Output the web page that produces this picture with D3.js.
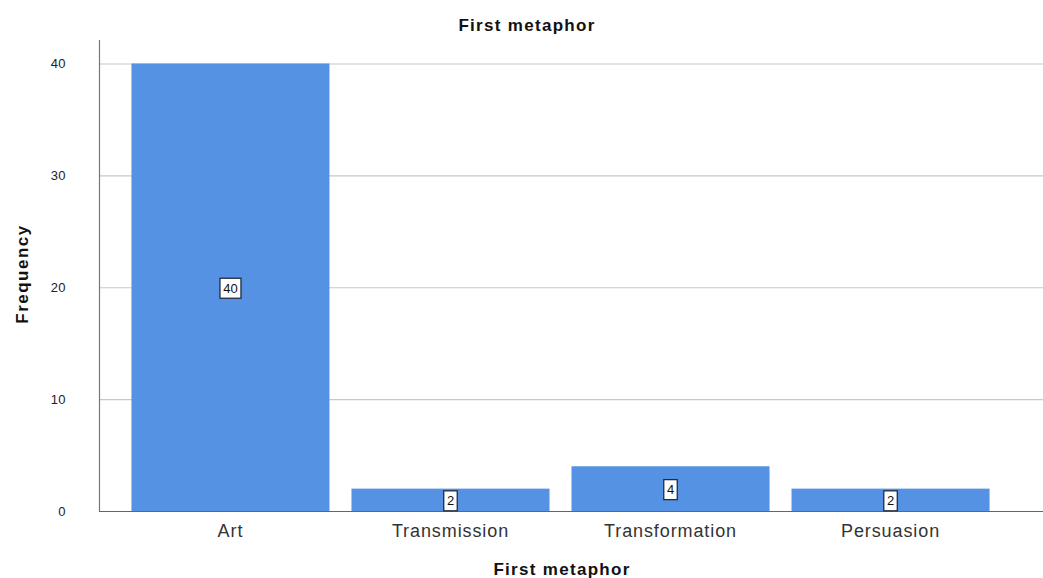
<!DOCTYPE html>
<html><head><meta charset="utf-8">
<script src="https://cdn.jsdelivr.net/npm/d3@7"></script>
<style>body{margin:0;background:#fff}svg{display:block;font-family:"Liberation Sans",Arial,sans-serif}</style>
</head><body>
<svg id="chart" width="1043" height="578"></svg>
<script>
const categories = ["Art", "Transmission", "Transformation", "Persuasion"];
const frequencies = [40, 2, 4, 2];
const yTicks = [0, 10, 20, 30, 40];

(function () {
const svg = d3.select("#chart");
const pLeft = 99, pRight = 1022, axisRight = 1043, pTop = 40, pBottom = 511;

const x = d3.scaleBand().domain(categories).range([pLeft, pRight]).paddingInner(0.1).paddingOuter(0.1475);
const y = d3.scaleLinear().domain([0, 42.1]).range([pBottom, pTop]);

// gridlines
svg.append("g").selectAll("line").data(yTicks.filter(d => d > 0)).join("line")
  .attr("x1", pLeft).attr("x2", axisRight)
  .attr("y1", d => y(d) + 0.5).attr("y2", d => y(d) + 0.5)
  .attr("stroke", "#c8c8c8").attr("stroke-width", 1.2);

// bars
svg.append("g").selectAll("rect").data(categories).join("rect")
  .attr("x", d => x(d)).attr("width", x.bandwidth())
  .attr("y", (d, i) => y(frequencies[i])).attr("height", (d, i) => pBottom - y(frequencies[i]))
  .attr("fill", "#5592e3");

// axes lines
svg.append("line").attr("x1", pLeft + 0.5).attr("x2", pLeft + 0.5).attr("y1", pTop).attr("y2", pBottom + 1)
  .attr("stroke", "#777").attr("stroke-width", 1.2);
svg.append("line").attr("x1", pLeft).attr("x2", axisRight).attr("y1", pBottom + 0.5).attr("y2", pBottom + 0.5)
  .attr("stroke", "#666").attr("stroke-width", 1.2);

// y tick labels
svg.append("g").selectAll("text").data(yTicks).join("text")
  .attr("x", 66).attr("y", d => y(d)).attr("dy", "0.35em")
  .attr("text-anchor", "end").attr("font-size", 13).attr("letter-spacing", 0.4).attr("fill", "#222")
  .text(d => d);

// x category labels
svg.append("g").selectAll("text").data(categories).join("text")
  .attr("x", d => x(d) + x.bandwidth() / 2).attr("y", 537)
  .attr("text-anchor", "middle").attr("font-size", 18).attr("letter-spacing", 0.9).attr("fill", "#333")
  .text(d => d);

// value labels
const lab = svg.append("g").selectAll("g").data(categories).join("g")
  .attr("transform", (d, i) => `translate(${x(d) + x.bandwidth() / 2},${(y(frequencies[i]) + pBottom) / 2 + 1})`);
lab.append("rect")
  .attr("x", (d, i) => -(String(frequencies[i]).length * 7.5 + 6) / 2)
  .attr("width", (d, i) => String(frequencies[i]).length * 7.5 + 6)
  .attr("y", -10).attr("height", 20)
  .attr("fill", "#fff").attr("stroke", "#1f2d3d").attr("stroke-width", 1.3);
lab.append("text").attr("text-anchor", "middle").attr("dy", "0.36em")
  .attr("font-size", 13).attr("fill", "#111")
  .text((d, i) => frequencies[i]);

// titles
svg.append("text").attr("x", 527).attr("y", 31).attr("text-anchor", "middle")
  .attr("font-size", 17).attr("font-weight", "bold").attr("letter-spacing", 1.3).attr("fill", "#111").text("First metaphor");
svg.append("text").attr("x", 562).attr("y", 575).attr("text-anchor", "middle")
  .attr("font-size", 17).attr("font-weight", "bold").attr("letter-spacing", 1.3).attr("fill", "#111").text("First metaphor");
svg.append("text").attr("transform", "translate(28,274) rotate(-90)").attr("text-anchor", "middle")
  .attr("font-size", 17).attr("font-weight", "bold").attr("letter-spacing", 1.5).attr("fill", "#111").text("Frequency");
})();
</script>
</body></html>
